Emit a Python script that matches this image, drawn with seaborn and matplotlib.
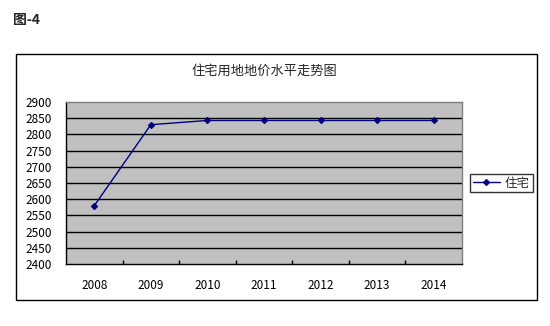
import matplotlib
matplotlib.use("Agg")
import matplotlib.pyplot as plt
import seaborn as sns
import pandas as pd
from matplotlib.patches import Rectangle

years = ["2008", "2009", "2010", "2011", "2012", "2013", "2014"]
values = [2580, 2830, 2843, 2843, 2843, 2843, 2843]
series_name = "住宅"
title = "住宅用地地价水平走势图"
fig_label = "图-4"
yticks = list(range(2400, 2901, 50))

sns.set_theme(style="white")
plt.rcParams['font.family'] = ['Noto Sans CJK SC', 'DejaVu Sans']

df = pd.DataFrame({"pos": range(len(years)), "value": values, "series": series_name})

fig = plt.figure(figsize=(5.5, 3.26), dpi=100)
fig.patch.set_facecolor("white")

# outer chart box
fig.patches.append(Rectangle((16/550, 1-300/326), (537-16)/550, (300-54)/326,
                             transform=fig.transFigure, fill=False,
                             edgecolor="black", linewidth=1.0))

ax = fig.add_axes([66/550, 1-264/326, 396/550, 162/326])
ax.set_facecolor("#C0C0C0")

sns.lineplot(data=df, x="pos", y="value", hue="series", palette=["#000080"],
             marker="D", markersize=3.2, markeredgecolor="#000080",
             linewidth=1.0, ax=ax, legend=True)

ax.set_xlim(-0.5, len(years) - 0.5)
ax.set_ylim(2400, 2900)
ax.set_yticks(yticks)
ax.set_yticklabels([str(v) for v in yticks])
ax.set_xticks(range(len(years)))
ax.set_xticklabels(years)
ax.set_xticks([i + 0.5 for i in range(len(years) - 1)], minor=True)
ax.tick_params(axis="x", which="major", length=0, pad=11, labelsize=8.5, colors="black")
ax.tick_params(axis="x", which="minor", length=3, direction="in", width=1, color="black", bottom=True)
ax.tick_params(axis="y", length=0, pad=10, labelsize=8.5, colors="black")
ax.set_xlabel("")
ax.set_ylabel("")
for y in yticks[1:-1]:
    ax.axhline(y, color="black", linewidth=1.0, zorder=1)
ax.spines["left"].set_color("black")
ax.spines["bottom"].set_color("black")
ax.spines["top"].set_color("#808080")
ax.spines["right"].set_color("#808080")
for s in ax.spines.values():
    s.set_linewidth(1.0)
    s.set_visible(True)

handles, labels = ax.get_legend_handles_labels()
ax.get_legend().remove()
leg = fig.legend(handles, labels, loc="center left",
                 bbox_to_anchor=(470/550, 1-183/326), frameon=True,
                 fancybox=False, edgecolor="black", fontsize=9,
                 handlelength=2.2, handletextpad=0.4, borderpad=0.2,
                 borderaxespad=0)
leg.get_frame().set_linewidth(1.0)

fig.text(0.5 * (66 + 462) / 550, 1 - 71/326, title, ha="center", va="center", fontsize=9.5)
fig.text(13/550, 1 - 20/326, fig_label, ha="left", va="center", fontsize=10, fontweight="bold")

fig.savefig("out.png", dpi=100, facecolor="white")
